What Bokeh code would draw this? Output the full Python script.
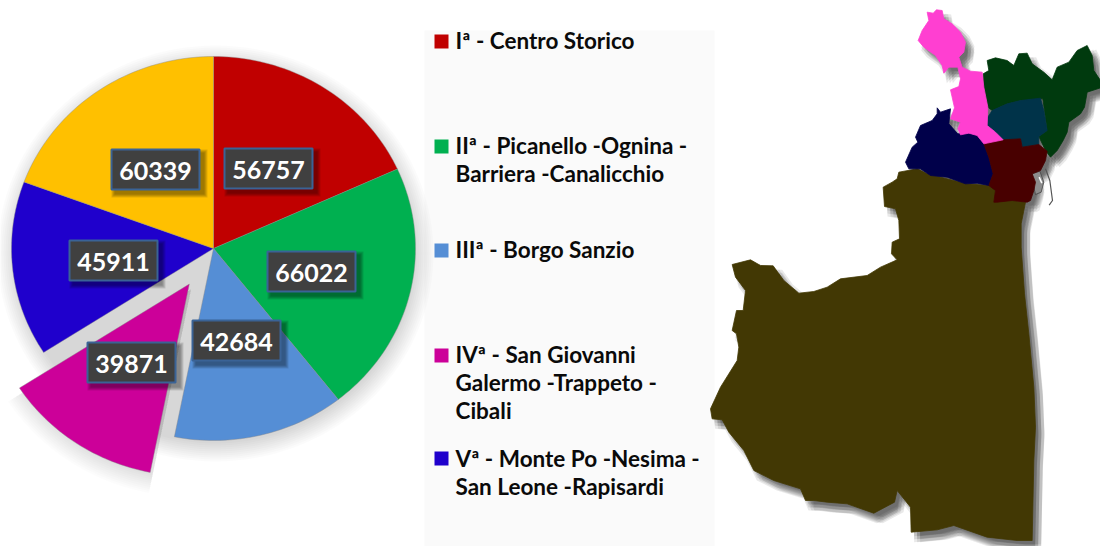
import math
from bokeh.plotting import figure
from bokeh.models import Range1d
from bokeh.core.properties import value
from bokeh.embed import file_html
from bokeh.resources import INLINE

# ---- data ----
slice_values = [56757, 66022, 42684, 39871, 45911, 60339]
slice_colors = ["#C00000", "#00B050", "#558ED5", "#CC0099", "#1F00CC", "#FFC000"]
exploded = [False, False, False, True, False, False]
value_labels = ["56757", "66022", "42684", "39871", "45911", "60339"]
label_cx = [268, 311, 236, 131, 113, 155]
label_cy = [168, 271, 340, 362, 260, 169]

legend_colors = ["#C00000", "#00B050", "#558ED5", "#CC0099", "#1F00CC"]
legend_square_y = [41, 146, 250, 355, 458]
legend_lines = ["Iª - Centro Storico",
                "IIª - Picanello -Ognina -", "Barriera -Canalicchio",
                "IIIª - Borgo Sanzio",
                "IVª - San Giovanni", "Galermo -Trappeto -", "Cibali",
                "Vª - Monte Po -Nesima -", "San Leone -Rapisardi"]
legend_line_y = [40, 145, 173, 249, 354, 382, 410, 458, 486]

zoom_a = [(140,35),(158,38),(168,28),(185,30),(190,55),(215,70),(240,95),(255,125),(250,155),(235,170),(245,200),(270,212),(305,215),(310,260),(322,320),(320,375),(345,395),(368,418),(310,430),(290,405),(265,398),(240,403),(232,385),(240,365),(210,355),(222,322),(210,268),(235,258),(240,235),(232,200),(205,200),(190,218),(185,195),(165,165),(130,140),(113,120),(125,90),(145,60)]
zoom_green = [(308,220),(325,210),(320,180),(345,172),(380,180),(400,195),(415,160),(440,158),(455,190),(490,215),(515,238),(530,200),(565,185),(590,150),(620,135),(635,165),(640,210),(660,240),(660,262),(620,275),(612,320),(600,340),(565,365),(560,395),(548,420),(530,450),(510,470),(495,450),(475,408),(500,390),(487,295),(420,300),(380,310),(335,330),(322,320),(310,260)]
zoom_teal = [(335,330),(380,310),(420,300),(480,293),(490,330),(500,390),(475,408),(475,432),(425,440),(420,415),(368,418),(345,395),(320,375),(322,350)]
zoom_red = [(310,430),(368,418),(420,415),(425,440),(475,432),(500,452),(495,480),(480,510),(455,520),(465,545),(460,570),(450,600),(440,605),(395,600),(350,605),(340,605),(345,570),(325,555),(338,520),(325,470)]
zoom_navy = [(170,322),(180,335),(210,325),(205,370),(232,400),(265,398),(290,405),(310,430),(325,470),(338,520),(325,555),(290,548),(255,550),(200,530),(150,525),(120,505),(85,505),(75,485),(95,440),(112,425),(105,410),(120,375),(155,360),(170,340)]
zoom_olive = [(595,35),(650,25),(680,40),(720,50),(800,70),(865,75),(885,85),(882,125),(900,115),(975,125),(962,190),(962,260),(972,400),(985,520),(1000,680),(1005,800),(1000,900),(995,1140),(950,1140),(860,1130),(760,1095),(710,1108),(632,1115),(630,1040),(590,990),(582,1025),(520,1058),(440,1030),(380,1025),(340,1020),(315,1020),(300,985),(220,960),(160,930),(130,870),(85,815),(65,778),(35,775),(30,745),(60,680),(110,600),(115,560),(108,520),(95,510),(108,450),(128,450),(135,390),(105,350),(95,312),(150,298),(180,315),(218,316),(250,360),(295,398),(340,393),(380,380),(420,355),(500,345),(540,320),(590,298),(573,280),(575,245),(597,235),(595,180),(585,145),(552,138),(548,80),(575,65),(590,55)]
zoom_harbour = [(455,520),(478,512),(490,545),(482,575),(465,582),(460,560)]
zoom_mole = [(495,505),(508,540),(516,600),(506,614)]
zoom_gap = [(476,530),(484,548)]


def top(pts):
    return [880 + x / 3 for x, _ in pts], [y / 3 for _, y in pts]


def low(pts):
    return [700 + x / 3 for x, _ in pts], [160 + y / 3 for _, y in pts]


districts = [
    (low(zoom_olive), "#423804"),
    (top(zoom_navy), "#00004A"),
    (top(zoom_green), "#003A0E"),
    (top(zoom_teal), "#003349"),
    (top(zoom_red), "#480000"),
    (top(zoom_a), "#FF3FD1"),
]

# ---- layout ----
CX, CY, RX, RY = 213, 248, 202, 192
EXPLODE = 43

p = figure(width=1100, height=546, x_range=Range1d(0, 1100), y_range=Range1d(546, 0),
           x_axis_location=None, y_axis_location=None, toolbar_location=None,
           output_backend="svg", min_border=0, outline_line_color=None,
           background_fill_color="white", border_fill_color="white")
p.grid.visible = False

# legend panel
p.quad(left=[424], right=[714], top=[30], bottom=[546], fill_color="#FAFAFA", line_color=None)

# pie slices from values
total = sum(slice_values)
polys = []
start = 0.0
for v, c, ex in zip(slice_values, slice_colors, exploded):
    end = start + v / total * 2 * math.pi
    mid = (start + end) / 2
    dx = EXPLODE * math.sin(mid) if ex else 0
    dy = -EXPLODE * math.cos(mid) if ex else 0
    n = max(8, int((end - start) * 40))
    ts = [start + (end - start) * i / n for i in range(n + 1)]
    polys.append((CX + dx, CY + dy, ts, c, ex))
    start = end


def outline(ox, oy, ts, grow=0.0, sx=0, sy=0):
    xs = [ox + sx] + [ox + sx + (RX + grow) * math.sin(t) for t in ts]
    ys = [oy + sy] + [oy + sy - (RY + grow) * math.cos(t) for t in ts]
    return xs, ys


# soft shadow under the pie: whole disc, plus the pulled-out slice on its own
disc_ts = [2 * math.pi * i / 240 for i in range(241)]
for k in range(10):
    g = 16 - k * 2
    xs = [CX + 2 + (RX + g) * math.sin(t) for t in disc_ts]
    ys = [CY + 5 + (RY + g) * math.cos(t) for t in disc_ts]
    p.patch(xs, ys, fill_color="#000000", fill_alpha=0.016, line_color=None)
    for ox, oy, ts, _, ex in polys:
        if ex:
            xs, ys = outline(ox, oy, ts, g, 2, 5)
            p.patch(xs, ys, fill_color="#000000", fill_alpha=0.012, line_color=None)

for ox, oy, ts, c, _ in polys:
    xs, ys = outline(ox, oy, ts)
    p.patch(xs, ys, fill_color=c, line_color="#8A8A8A", line_width=0.6, line_alpha=0.7)

# value labels
for lx, ly, t in zip(label_cx, label_cy, value_labels):
    for k in range(4):
        g = 4 - k
        p.quad(left=[lx - 44 + 4 - g], right=[lx + 44 + 4 + g], top=[ly - 20 + 4 - g], bottom=[ly + 20 + 4 + g],
               fill_color="#000000", fill_alpha=0.11, line_color=None)
    p.quad(left=[lx - 44], right=[lx + 44], top=[ly - 20], bottom=[ly + 20],
           fill_color="#404040", line_color="#3A6396", line_width=2)
    p.text(x=[lx], y=[ly + 1], text=[t], text_color="white", text_font=value("Lato"),
           text_font_style="bold", text_font_size="25px", text_align="center", text_baseline="middle")

# legend
for c, y in zip(legend_colors, legend_square_y):
    p.quad(left=[434], right=[448], top=[y - 7], bottom=[y + 7], fill_color=c, line_color=None)
p.text(x=[455] * len(legend_lines), y=legend_line_y, text=legend_lines, text_color="#0A0A0A",
       text_font=value("Lato"), text_font_style="bold", text_font_size="22.5px",
       text_align="left", text_baseline="middle")

# map shadow
for ox in (3, 6, 9):
    for oy in (4, 7, 10):
        for (xs, ys), _ in districts:
            p.patch([x + ox for x in xs], [y + oy for y in ys],
                    fill_color="#000000", fill_alpha=0.085, line_color=None)

hx, hy = top(zoom_harbour)
p.patch(hx, hy, fill_color="#8C8C8C", line_color="#444444", line_width=0.8)
mx, my = top(zoom_mole)
p.line(mx, my, line_color="#555555", line_width=1.2)
gx, gy = top(zoom_gap)
p.line(gx, gy, line_color="#FFFFFF", line_width=1.5)

for (xs, ys), c in districts:
    p.patch(xs, ys, fill_color=c, line_color=c, line_width=0.8)

open("out.html", "w").write(file_html(p, INLINE))
